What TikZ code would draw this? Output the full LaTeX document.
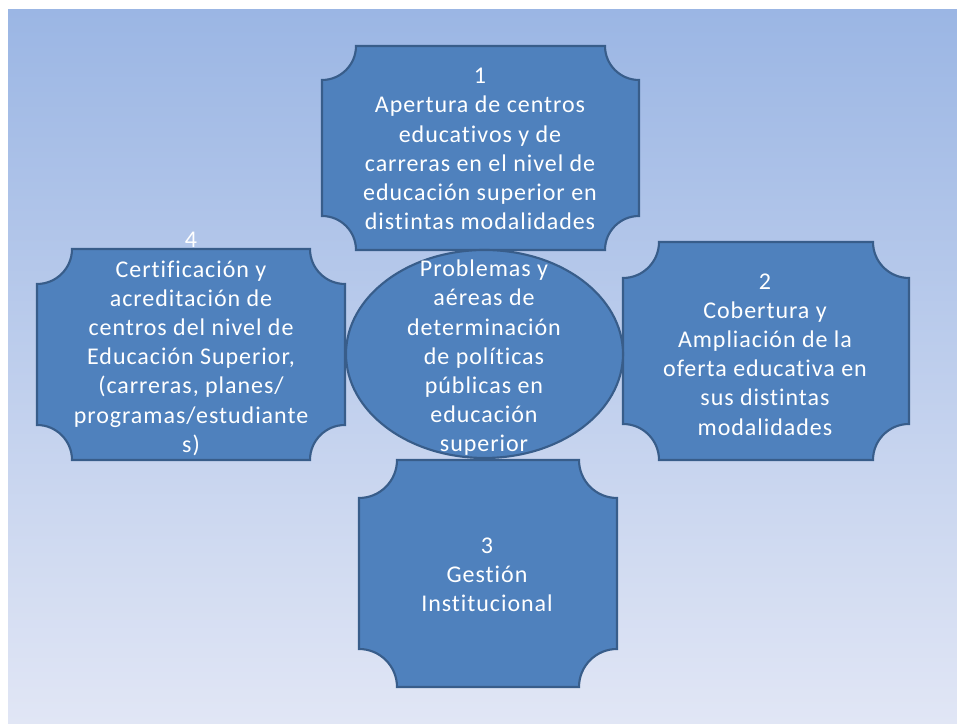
\documentclass[tikz,border=0pt]{standalone}
\usepackage{fontspec}
\setmainfont{Carlito}[LetterSpace=4,Ligatures={NoCommon}]
\definecolor{bgtop}{RGB}{155,182,228}
\definecolor{bgbottom}{RGB}{225,230,245}
\definecolor{boxfill}{RGB}{79,129,189}
\definecolor{boxline}{RGB}{56,93,138}
\tikzset{
  plaquebox/.style={fill=boxfill,draw=boxline,line width=1.6pt},
  lbl/.style={text=white,align=center,inner sep=0pt,font=\fontsize{18}{21.9}\selectfont}
}
% box with cut-in corners: x1,y1,x2,y2,radius
\newcommand{\plaque}[5]{%
  \draw[plaquebox] (#1+#5,#4) -- (#3-#5,#4) arc[start angle=180,end angle=270,radius=#5]
    -- (#3,#2+#5) arc[start angle=90,end angle=180,radius=#5]
    -- (#1+#5,#2) arc[start angle=0,end angle=90,radius=#5]
    -- (#1,#4-#5) arc[start angle=270,end angle=360,radius=#5] -- cycle;}
\begin{document}
\begin{tikzpicture}[x=0.75pt,y=0.75pt]
  \useasboundingbox (0,0) rectangle (957,724);
  \fill[white] (0,0) rectangle (957,724);
  \shade[top color=bgtop,bottom color=bgbottom] (8,0) rectangle (957,714);
  \plaque{322}{474}{639}{678}{34}
  \plaque{37}{264}{345}{475}{35}
  \plaque{623}{264}{909}{482}{36}
  \plaque{359}{37}{617}{264}{38}
  \draw[plaquebox] (484.5,370) ellipse [x radius=138.5,y radius=104];
  \node[lbl] (n1) at (480,575) {1\\Apertura de centros\\educativos y de\\carreras en el nivel de\\educación superior en\\distintas modalidades};
  \node[lbl] (n2) at (765,369.5) {2\\Cobertura y\\Ampliación de la\\oferta educativa en\\sus distintas\\modalidades};
  \node[lbl] (n3) at (487,149) {3\\Gestión\\Institucional};
  \node[lbl] (n4) at (191,380) {4\\Certificación y\\acreditación de\\centros del nivel de\\Educación Superior,\\(carreras, planes/\\programas/estudiante\\s)};
  \node[lbl] (centro) at (484,366) {Problemas y\\aéreas de\\determinación\\de políticas\\públicas en\\educación\\superior};
\end{tikzpicture}
\end{document}
